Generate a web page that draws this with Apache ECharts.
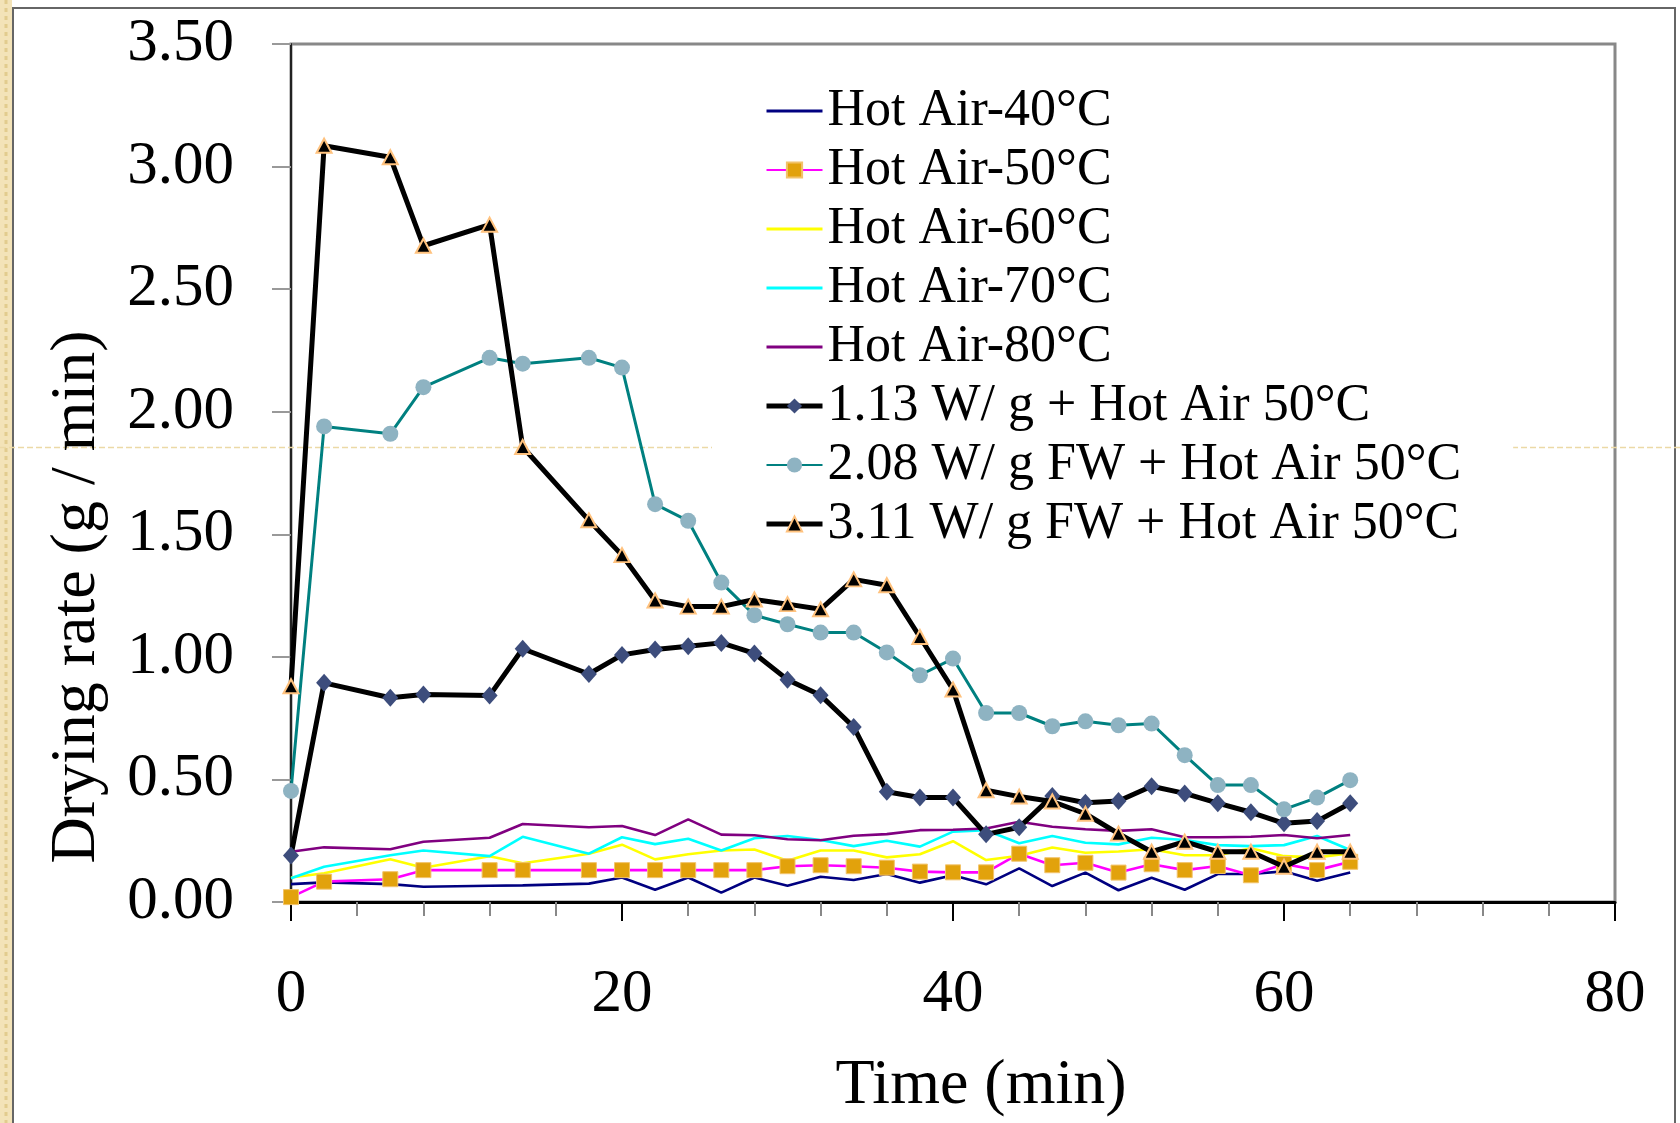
<!DOCTYPE html>
<html>
<head>
<meta charset="utf-8">
<script src="https://cdn.jsdelivr.net/npm/echarts@6/dist/echarts.min.js"></script>
<style>
html,body{margin:0;padding:0;background:#fff;}
#chart{width:1680px;height:1123px;}
</style>
</head>
<body>
<div id="chart"></div>
<script>
// ---- data ----
const time = [0,2,6,8,12,14,18,20,22,24,26,28,30,32,34,36,38,40,42,44,46,48,50,52,54,56,58,60,62,64];
const hotAir40 = [0.073,0.080,0.073,0.062,0.066,0.068,0.075,0.100,0.050,0.100,0.038,0.100,0.066,0.103,0.090,0.114,0.079,0.109,0.072,0.137,0.065,0.120,0.048,0.099,0.050,0.114,0.114,0.125,0.087,0.120];
const hotAir50 = [0.020,0.083,0.093,0.130,0.130,0.130,0.130,0.130,0.130,0.130,0.130,0.130,0.146,0.150,0.146,0.140,0.124,0.121,0.121,0.197,0.150,0.160,0.120,0.154,0.130,0.147,0.109,0.155,0.130,0.164];
const hotAir60 = [0.100,0.117,0.174,0.140,0.187,0.158,0.197,0.234,0.174,0.195,0.210,0.214,0.168,0.210,0.210,0.182,0.195,0.248,0.171,0.189,0.222,0.201,0.206,0.215,0.191,0.191,0.219,0.187,0.182,0.199];
const hotAir70 = [0.097,0.144,0.191,0.210,0.187,0.266,0.197,0.264,0.236,0.258,0.210,0.260,0.269,0.253,0.228,0.250,0.226,0.287,0.293,0.240,0.269,0.242,0.235,0.262,0.253,0.232,0.228,0.232,0.269,0.212];
const hotAir80 = [0.205,0.223,0.215,0.246,0.262,0.318,0.305,0.310,0.273,0.337,0.275,0.272,0.256,0.252,0.270,0.277,0.293,0.295,0.300,0.327,0.307,0.297,0.290,0.297,0.264,0.264,0.266,0.273,0.260,0.273];
const mw113 = [0.190,0.894,0.833,0.846,0.842,1.033,0.930,1.008,1.030,1.043,1.057,1.014,0.907,0.843,0.714,0.450,0.426,0.426,0.276,0.305,0.432,0.405,0.412,0.472,0.443,0.403,0.366,0.321,0.330,0.403];
const mw208 = [0.453,1.940,1.910,2.100,2.220,2.196,2.220,2.180,1.623,1.555,1.303,1.170,1.133,1.099,1.099,1.018,0.925,0.993,0.771,0.771,0.717,0.737,0.721,0.728,0.599,0.477,0.477,0.378,0.426,0.497];
const mw311 = [0.880,3.085,3.038,2.677,2.763,1.856,1.557,1.415,1.230,1.205,1.205,1.234,1.215,1.194,1.316,1.292,1.081,0.867,0.456,0.430,0.410,0.360,0.279,0.205,0.246,0.205,0.205,0.144,0.205,0.205];
const seriesNames = ['Hot Air-40°C','Hot Air-50°C','Hot Air-60°C','Hot Air-70°C','Hot Air-80°C',
  '1.13 W/ g + Hot Air 50°C','2.08 W/ g FW + Hot Air 50°C','3.11 W/ g FW + Hot Air 50°C'];
const xTicks = [0,20,40,60,80];
const yTicks = [0,0.5,1,1.5,2,2.5,3,3.5];
const xTitle = 'Time (min)';
const yTitle = 'Drying rate (g / min)';

const pairs = arr => time.map((t,i)=>[t,arr[i]]);
const FONT = '"Liberation Serif","Times New Roman",serif';
const LINE_ICON = 'path://M0,0H56V3H0Z';
const plainLine = [0,2,3,4];   // series drawn as plain lines without markers
const thickLine = [5,7];       // series drawn with thick black lines

const chart = echarts.init(document.getElementById('chart'), null, {renderer:'canvas'});

function thin(name, arr, color){
  return {name, type:'line', data:pairs(arr), showSymbol:false, symbol:'none',
    lineStyle:{color, width:2.6}, itemStyle:{color}, z:2, silent:true};
}

const option = {
  animation:false,
  backgroundColor:'#ffffff',
  grid:{left:291, right:65, top:44, bottom:221, show:true, borderColor:'#888888', borderWidth:3, backgroundColor:'#ffffff'},
  xAxis:{
    type:'value', min:xTicks[0], max:xTicks[xTicks.length-1], interval:20,
    axisLine:{show:true, onZero:false, lineStyle:{color:'#000', width:3}},
    axisTick:{show:true, length:19, lineStyle:{color:'#000', width:2}},
    minorTick:{show:true, splitNumber:5, length:14, lineStyle:{color:'#888', width:2}},
    splitLine:{show:false},
    axisLabel:{margin:62, fontSize:61, fontFamily:FONT, color:'#000'}
  },
  yAxis:{
    type:'value', min:yTicks[0], max:yTicks[yTicks.length-1], interval:0.5,
    axisLine:{show:true, lineStyle:{color:'#222', width:2}},
    axisTick:{show:true, length:19, lineStyle:{color:'#999', width:2}},
    splitLine:{show:false},
    axisLabel:{margin:57, fontSize:61, fontFamily:FONT, color:'#000', formatter:v=>v.toFixed(2)}
  },
  legend:{
    orient:'vertical', left:712, top:75, padding:[10,52,10,52],
    backgroundColor:'#ffffff', itemWidth:56, itemHeight:19, itemGap:7,
    textStyle:{fontSize:52, lineHeight:52, fontFamily:FONT, color:'#000'},
    data:seriesNames.map((n,i)=> plainLine.includes(i) ? {name:n, icon:LINE_ICON}
      : thickLine.includes(i) ? {name:n, lineStyle:{width:5}} : {name:n}),
    z:6
  },
  graphic:[
    {type:'rect', shape:{x:0,y:0,width:12,height:1123}, style:{fill:'#f3e3b8'}, z:-1},
    {type:'line', shape:{x1:6,y1:0,x2:6,y2:1123}, style:{stroke:'#e2cc8e', lineWidth:3, lineDash:[4,4]}, z:-1},
    {type:'polyline', shape:{points:[[13,1123],[13,8],[1675,8],[1675,1123]]}, style:{stroke:'#666', lineWidth:2, fill:null}, z:-1},
    {type:'line', shape:{x1:0,y1:447.5,x2:1680,y2:447.5}, style:{stroke:'#ecd9a6', lineWidth:1.5, lineDash:[6,3]}, z:3},
    {type:'text', x:981, y:1086, style:{text:xTitle, font:'64px '+FONT, fill:'#000', textAlign:'center', textVerticalAlign:'middle'}, z:5},
    {type:'text', x:77, y:597, rotation:Math.PI/2, style:{text:yTitle, font:'64px '+FONT, fill:'#000', textAlign:'center', textVerticalAlign:'middle'}, z:5}
  ],
  series:[
    thin(seriesNames[0], hotAir40, '#000080'),
    {name:seriesNames[1], type:'line', data:pairs(hotAir50), symbol:'rect', symbolSize:15,
      lineStyle:{color:'#ff00ff', width:2.6}, itemStyle:{color:'#e2a20c', borderColor:'#f2c36a', borderWidth:1}, z:2},
    thin(seriesNames[2], hotAir60, '#ffff00'),
    thin(seriesNames[3], hotAir70, '#00ffff'),
    thin(seriesNames[4], hotAir80, '#800080'),
    {name:seriesNames[5], type:'line', data:pairs(mw113), symbol:'diamond', symbolSize:[16,18],
      lineStyle:{color:'#000', width:5}, itemStyle:{color:'#3d4d7c', borderColor:'#3d4d7c', borderWidth:0}, z:3},
    {name:seriesNames[6], type:'line', data:pairs(mw208), symbol:'circle', symbolSize:16,
      lineStyle:{color:'#008080', width:3}, itemStyle:{color:'#8eb3c2', borderWidth:0}, z:3},
    {name:seriesNames[7], type:'line', data:pairs(mw311), symbol:'triangle', symbolSize:[15,14],
      lineStyle:{color:'#000', width:5}, itemStyle:{color:'#000', borderColor:'#ffc27e', borderWidth:2}, z:4}
  ]
};
chart.setOption(option);
</script>
</body>
</html>
